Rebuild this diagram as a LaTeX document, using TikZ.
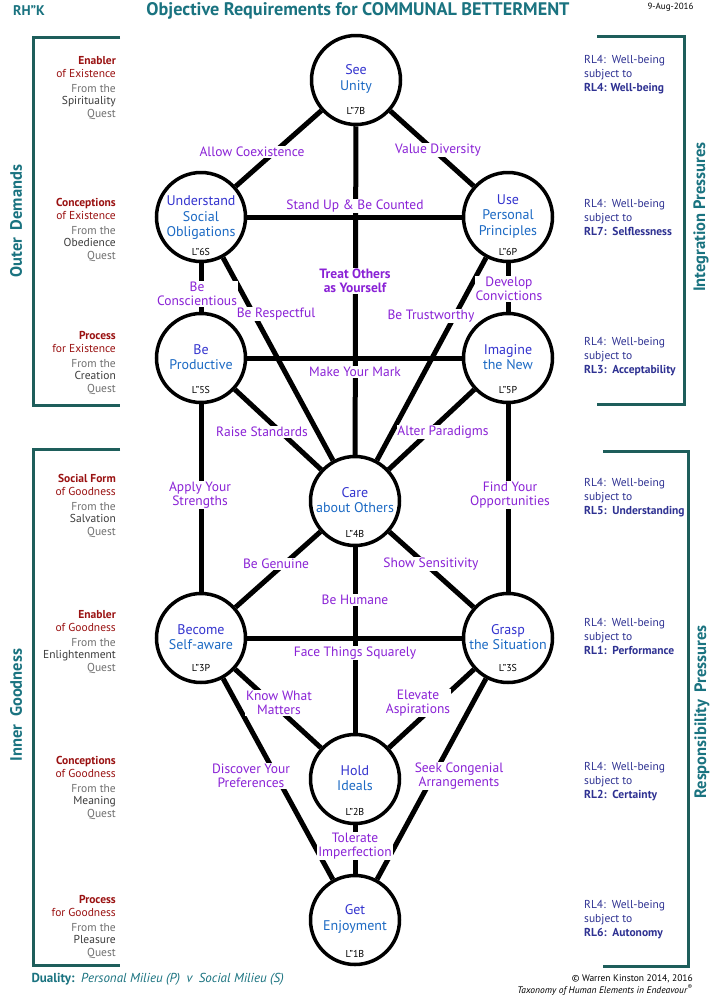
\documentclass[tikz,border=0pt]{standalone}
\usepackage{fontspec}
\setmainfont{PT Sans}
\definecolor{tealt}{HTML}{1A7380}
\definecolor{brk}{HTML}{1E5E5B}
\definecolor{dred}{HTML}{9A1212}
\definecolor{grA}{HTML}{707070}
\definecolor{grB}{HTML}{3C3C3C}
\definecolor{rlb}{HTML}{2E3192}
\definecolor{lab}{HTML}{8A22D6}
\definecolor{nA}{HTML}{3434CF}
\definecolor{nB}{HTML}{1C6AC4}
\begin{document}
\begin{tikzpicture}[x=1pt,y=-1pt,
  circ/.style={circle, draw=black, line width=3.5pt, fill=white, minimum size=89pt, inner sep=0pt},
  conn/.style={line width=5pt, black},
  elab/.style={text=lab, fill=white, inner sep=0.8pt, align=center, font=\fontsize{13.5}{14.5}\selectfont},
  ntext/.style={align=center, font=\fontsize{14}{15.5}\selectfont},
  lnum/.style={font=\fontsize{10}{11}\selectfont},
  brack/.style={draw=brk, line width=3pt},
  sidet/.style={text=tealt, font=\bfseries\fontsize{16.5}{18}\selectfont, rotate=90},
  lgrp/.style={anchor=east, align=right, inner sep=0pt, font=\fontsize{11.5}{12.6}\selectfont},
  rgrp/.style={anchor=west, align=left, inner sep=0pt, text=rlb, font=\fontsize{11.5}{14}\selectfont}
]
\useasboundingbox (0,0) rectangle (713,999);
\fill[white] (0,0) rectangle (713,999);

% header
\node[text=tealt, font=\bfseries\fontsize{14}{16}\selectfont] (rhk) at (29,11) {RH”K};
\node[text=tealt, font=\bfseries\fontsize{18.2}{20}\selectfont] (title) at (358,11) {Objective Requirements for COMMUNAL BETTERMENT};
\node[anchor=east, font=\fontsize{9}{10}\selectfont] (date) at (697,7) {9-Aug-2016};

% brackets
\draw[brack] (120,37) -- (33,37) -- (33,405) -- (120,405);
\draw[brack] (120,449) -- (33,449) -- (33,965) -- (120,965);
\draw[brack] (597,36) -- (684,36) -- (684,404) -- (597,404);
\draw[brack] (603,451) -- (688,451) -- (688,966) -- (603,966);
\node[sidet] (outer) at (16,221) {Outer\hspace{0.45em}Demands};
\node[sidet] (inner) at (16,705) {Inner\hspace{0.45em}Goodness};
\node[sidet] (integ) at (701,217) {Integration Pressures};
\node[sidet] (respo) at (702,712) {Responsibility\hspace{0.45em}Pressures};

% left texts
\node[lgrp] (g1) at (116,88) {\textcolor{dred}{\bfseries Enabler}\\\textcolor{dred}{of Existence}\\[2.5pt]\textcolor{grA}{From the}\\\textcolor{grB}{Spirituality}\\\textcolor{grA}{Quest}};
\node[lgrp] (g2) at (116,230) {\textcolor{dred}{\bfseries Conceptions}\\\textcolor{dred}{of Existence}\\[2.5pt]\textcolor{grA}{From the}\\\textcolor{grB}{Obedience}\\\textcolor{grA}{Quest}};
\node[lgrp] (g3) at (116,363) {\textcolor{dred}{\bfseries Process}\\\textcolor{dred}{for Existence}\\[2.5pt]\textcolor{grA}{From the}\\\textcolor{grB}{Creation}\\\textcolor{grA}{Quest}};
\node[lgrp] (g4) at (116,506) {\textcolor{dred}{\bfseries Social Form}\\\textcolor{dred}{of Goodness}\\[2.5pt]\textcolor{grA}{From the}\\\textcolor{grB}{Salvation}\\\textcolor{grA}{Quest}};
\node[lgrp] (g5) at (116,642) {\textcolor{dred}{\bfseries Enabler}\\\textcolor{dred}{of Goodness}\\[2.5pt]\textcolor{grA}{From the}\\\textcolor{grB}{Enlightenment}\\\textcolor{grA}{Quest}};
\node[lgrp] (g6) at (116,788) {\textcolor{dred}{\bfseries Conceptions}\\\textcolor{dred}{of Goodness}\\[2.5pt]\textcolor{grA}{From the}\\\textcolor{grB}{Meaning}\\\textcolor{grA}{Quest}};
\node[lgrp] (g7) at (116,927) {\textcolor{dred}{\bfseries Process}\\\textcolor{dred}{for Goodness}\\[2.5pt]\textcolor{grA}{From the}\\\textcolor{grB}{Pleasure}\\\textcolor{grA}{Quest}};

% right texts
\node[rgrp] (r1) at (584,75) {RL4:\, Well-being\\subject to\\\textbf{RL4: Well-being}};
\node[rgrp] (r2) at (584,217) {RL4:\, Well-being\\subject to\\\textbf{RL7:\, Selflessness}};
\node[rgrp] (r3) at (584,357) {RL4:\, Well-being\\subject to\\\textbf{RL3:\, Acceptability}};
\node[rgrp] (r4) at (584,498) {RL4:\, Well-being\\subject to\\\textbf{RL5:\, Understanding}};
\node[rgrp] (r5) at (584,636) {RL4:\, Well-being\\subject to\\\textbf{RL1:\, Performance}};
\node[rgrp] (r6) at (584,782) {RL4:\, Well-being\\subject to\\\textbf{RL2:\, Certainty}};
\node[rgrp] (r7) at (584,920) {RL4:\, Well-being\\subject to\\\textbf{RL6:\, Autonomy}};

% footer
\node[anchor=west, text=tealt, font=\fontsize{13}{15}\selectfont] (dual) at (28,979) {\textbf{Duality:}\enspace\textit{Personal Milieu (P)\enspace v\enspace Social Milieu (S)}};
\node[anchor=east, align=right, inner sep=0pt, font=\fontsize{9.5}{12}\selectfont] (copy) at (693,985) {© Warren Kinston 2014, 2016\\\textit{Taxonomy of Human Elements in Endeavour}\textsuperscript{®}};

% circles
\node[circ] (see)  at (356,80)  {};
\node[circ] (und)  at (201,217) {};
\node[circ] (use)  at (508,217) {};
\node[circ] (prod) at (201,358) {};
\node[circ] (imag) at (508,358) {};
\node[circ] (care) at (355,501) {};
\node[circ] (becm) at (201,638) {};
\node[circ] (grsp) at (508,638) {};
\node[circ] (hold) at (355,779) {};
\node[circ] (get)  at (355,920) {};

% circle texts
\node[ntext] (seet)  at (356,79)  {\textcolor{nA}{See}\\\textcolor{nB}{Unity}};
\node[ntext] (undt)  at (201,218) {\textcolor{nA}{Understand}\\\textcolor{nB}{Social}\\\textcolor{nB}{Obligations}};
\node[ntext] (uset)  at (508,216) {\textcolor{nA}{Use}\\\textcolor{nB}{Personal}\\\textcolor{nB}{Principles}};
\node[ntext] (prodt) at (201,357) {\textcolor{nA}{Be}\\\textcolor{nB}{Productive}};
\node[ntext] (imagt) at (508,357) {\textcolor{nA}{Imagine}\\\textcolor{nB}{the New}};
\node[ntext] (caret) at (355,500) {\textcolor{nA}{Care}\\\textcolor{nB}{about Others}};
\node[ntext] (becmt) at (201,637) {\textcolor{nA}{Become}\\\textcolor{nB}{Self-aware}};
\node[ntext] (grspt) at (508,637) {\textcolor{nA}{Grasp}\\\textcolor{nB}{the Situation}};
\node[ntext] (holdt) at (355,778) {\textcolor{nA}{Hold}\\\textcolor{nB}{Ideals}};
\node[ntext] (gett)  at (355,919) {\textcolor{nA}{Get}\\\textcolor{nB}{Enjoyment}};

\node[lnum] (seel)  at (356,111) {L”7B};
\node[lnum] (undl)  at (201,252) {L”6S};
\node[lnum] (usel)  at (508,252) {L”6P};
\node[lnum] (prodl) at (201,390) {L”5S};
\node[lnum] (imagl) at (508,390) {L”5P};
\node[lnum] (carel) at (355,534) {L”4B};
\node[lnum] (becml) at (201,668) {L”3P};
\node[lnum] (grspl) at (508,668) {L”3S};
\node[lnum] (holdl) at (355,812) {L”2B};
\node[lnum] (getl)  at (355,954) {L”1B};

% connectors
\draw[conn] (see) -- (und);
\draw[conn] (see) -- (use);
\draw[conn] (see) -- (care);
\draw[conn] (und) -- (use);
\draw[conn] (und) -- (prod);
\draw[conn] (use) -- (imag);
\draw[conn] (und) -- (care);
\draw[conn] (use) -- (care);
\draw[conn] (prod) -- (imag);
\draw[conn] (prod) -- (care);
\draw[conn] (imag) -- (care);
\draw[conn] (prod) -- (becm);
\draw[conn] (imag) -- (grsp);
\draw[conn] (care) -- (becm);
\draw[conn] (care) -- (grsp);
\draw[conn] (care) -- (hold);
\draw[conn] (becm) -- (grsp);
\draw[conn] (becm) -- (hold);
\draw[conn] (grsp) -- (hold);
\draw[conn] (hold) -- (get);
\draw[conn] (becm) -- (get);
\draw[conn] (grsp) -- (get);

% connector labels
\node[elab] (lcoex)  at (252,152) {Allow Coexistence};
\node[elab] (lvdiv)  at (438,150) {Value Diversity};
\node[elab] (lstand) at (355,206) {Stand Up \& Be Counted};
\node[elab, font=\bfseries\fontsize{13.5}{14.5}\selectfont] (ltreat) at (355,281) {Treat Others\\as Yourself};
\node[elab] (lconsc) at (197,294) {Be\\Conscientious};
\node[elab] (lresp)  at (276,314) {Be Respectful};
\node[elab] (ltrust) at (431,316) {Be Trustworthy};
\node[elab] (lconv)  at (509,289) {Develop\\Convictions};
\node[elab] (lmark)  at (355,372) {Make Your Mark};
\node[elab] (lraise) at (262,432) {Raise Standards};
\node[elab] (lalter) at (443,432) {Alter Paradigms};
\node[elab] (lapply) at (200,495) {Apply Your\\Strengths};
\node[elab] (lfind)  at (510,495) {Find Your\\Opportunities};
\node[elab] (lgen)   at (276,564) {Be Genuine};
\node[elab] (lsens)  at (431,564) {Show Sensitivity};
\node[elab] (lhum)   at (355,600) {Be Humane};
\node[elab] (lface)  at (355,653) {Face Things Squarely};
\node[elab] (lknow)  at (279,703) {Know What\\Matters};
\node[elab] (lelev)  at (418,703) {Elevate\\Aspirations};
\node[elab] (ldisc)  at (251,776) {Discover Your\\Preferences};
\node[elab] (lseek)  at (459,776) {Seek Congenial\\Arrangements};
\node[elab] (ltol)   at (355,846) {Tolerate\\Imperfection};
\end{tikzpicture}
\end{document}
